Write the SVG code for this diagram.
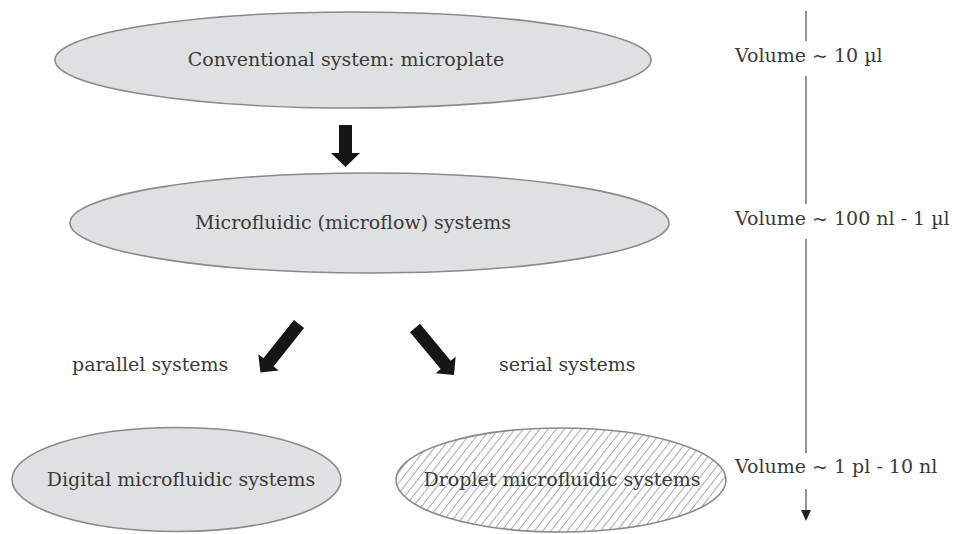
<svg xmlns="http://www.w3.org/2000/svg" width="956" height="534" viewBox="0 0 956 534">
<defs>
<pattern id="hatch" patternUnits="userSpaceOnUse" width="6.5" height="6.5" patternTransform="rotate(38)">
<rect width="6.5" height="6.5" fill="#ffffff"/>
<line x1="0" y1="0" x2="0" y2="6.5" stroke="#a8a8a8" stroke-width="2"/>
</pattern>
</defs>
<style>
.node ellipse{stroke:#8a8a8a;stroke-width:1.6}
.grey{fill:#dfe0e1}
.hat{fill:url(#hatch)}
text{font-family:"DejaVu Serif","Liberation Serif",serif;font-size:19px;fill:#3a3a3a}
.c{text-anchor:middle}
.big{fill:#161616}
.vline{stroke:#707070;stroke-width:1.5;fill:none}
</style>
<rect width="956" height="534" fill="#ffffff"/>
<g id="connectors">
<path class="big" d="M339,125 L352,125 L352,153 L360,153 L345.5,167 L331,153 L339,153 Z"/>
<path class="big" transform="translate(299,324) rotate(38.5)" d="M-6.5,0 L6.5,0 L6.5,49 L13,49 L0,62 L-13,49 L-6.5,49 Z"/>
<path class="big" transform="translate(415,328) rotate(-39.7)" d="M-6.5,0 L6.5,0 L6.5,48 L13,48 L0,61 L-13,48 L-6.5,48 Z"/>
<g id="volume-axis">
<line class="vline" x1="806" y1="11" x2="806" y2="41"/>
<line class="vline" x1="806" y1="76" x2="806" y2="204"/>
<line class="vline" x1="806" y1="239" x2="806" y2="453"/>
<line class="vline" x1="806" y1="489" x2="806" y2="512"/>
<path d="M801,510 L811,510 L806,521 Z" fill="#222"/>
</g>
</g>
<g id="node-conventional" class="node">
<ellipse class="grey" cx="353" cy="60" rx="298" ry="48"/>
<text class="c" x="346" y="66">Conventional system: microplate</text>
</g>
<g id="node-microfluidic" class="node">
<ellipse class="grey" cx="369.5" cy="223" rx="299.5" ry="50"/>
<text class="c" x="353" y="229">Microfluidic (microflow) systems</text>
</g>
<g id="node-digital" class="node">
<ellipse class="grey" cx="176.5" cy="479.5" rx="164.5" ry="52"/>
<text class="c" x="181" y="486">Digital microfluidic systems</text>
</g>
<g id="node-droplet" class="node">
<ellipse class="hat" cx="561" cy="480" rx="165" ry="52"/>
<text class="c" x="562" y="486">Droplet microfluidic systems</text>
</g>
<g id="labels">
<text x="72" y="371">parallel systems</text>
<text x="499" y="371">serial systems</text>
<text x="735" y="62">Volume ~ 10 µl</text>
<text x="735" y="225">Volume ~ 100 nl - 1 µl</text>
<text x="735" y="473">Volume ~ 1 pl - 10 nl</text>
</g>
</svg>
